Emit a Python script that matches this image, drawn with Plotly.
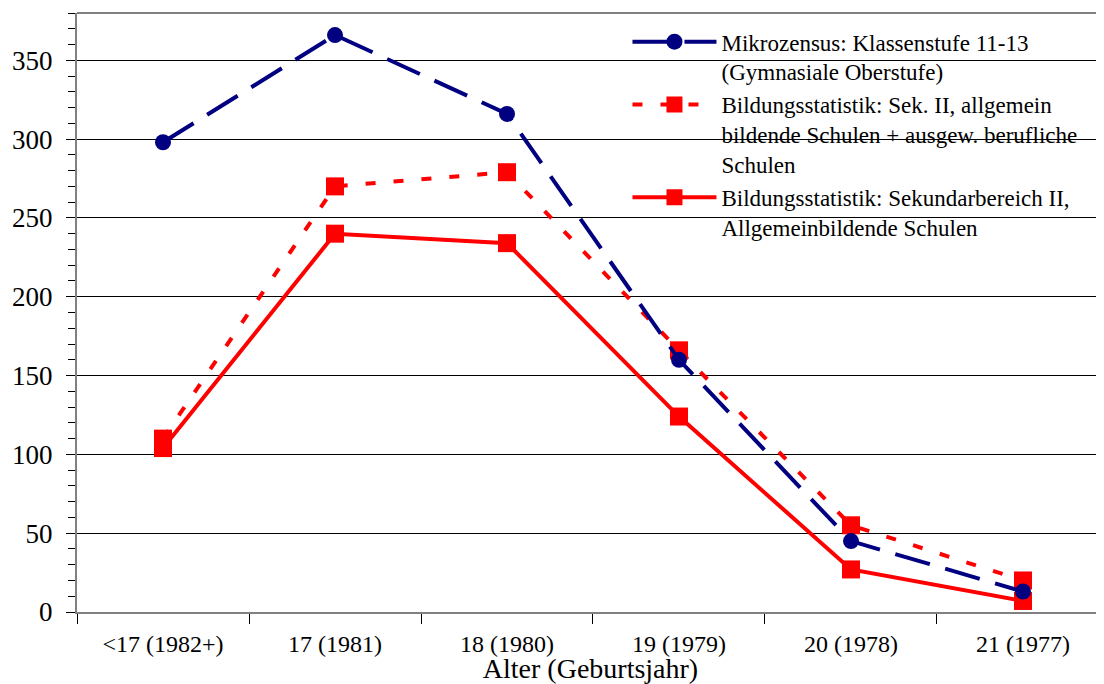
import plotly.graph_objects as go

categories = ["<17 (1982+)", "17 (1981)", "18 (1980)", "19 (1979)", "20 (1978)", "21 (1977)"]
mikrozensus = [298, 366, 316, 160, 45, 13]
bildung_berufl = [110, 270, 279, 166, 55, 20]
bildung_allg = [104, 240, 234, 124, 27, 7]

name_mz = "Mikrozensus: Klassenstufe 11-13<br>(Gymnasiale Oberstufe)"
name_bb = "Bildungsstatistik: Sek. II, allgemein<br>bildende Schulen + ausgew. berufliche<br>Schulen"
name_ba = "Bildungsstatistik: Sekundarbereich II,<br>Allgemeinbildende Schulen"

RED = "#ff0000"
NAVY = "#000080"
FONT = "Liberation Serif, Times New Roman, serif"

fig = go.Figure()
fig.add_trace(go.Scatter(
    x=categories, y=bildung_allg, name=name_ba, mode="lines+markers",
    line=dict(color=RED, width=4), marker=dict(symbol="square", size=18, color=RED),
    legendrank=3))
fig.add_trace(go.Scatter(
    x=categories, y=bildung_berufl, name=name_bb, mode="lines+markers",
    line=dict(color=RED, width=4, dash="10px,18px"), marker=dict(symbol="square", size=18, color=RED),
    legendrank=2))
fig.add_trace(go.Scatter(
    x=categories, y=mikrozensus, name=name_mz, mode="lines+markers",
    line=dict(color=NAVY, width=4, dash="36px,16px"), marker=dict(symbol="circle", size=16, color=NAVY),
    legendrank=1))

fig.update_layout(
    width=1096, height=676,
    margin=dict(l=69, r=0, t=5, b=72),
    paper_bgcolor="white", plot_bgcolor="white",
    font=dict(family=FONT, size=24, color="black"),
    showlegend=True,
    legend=dict(
        x=0.536, y=0.988, xanchor="left", yanchor="top", valign="top",
        font=dict(family=FONT, size=23, color="black"),
        bgcolor="rgba(255,255,255,0)", itemwidth=84, tracegroupgap=0,
    ),
    xaxis=dict(
        type="category", range=[-0.5, 5.471], automargin=False,
        tickson="boundaries", ticks="outside", ticklen=10, tickcolor="black",
        showline=True, linecolor="#808080", linewidth=2,
        showgrid=False, tickfont=dict(family=FONT, size=24), ticklabelstandoff=9,
        title=dict(text="Alter (Geburtsjahr)", font=dict(family=FONT, size=28), standoff=9),
    ),
    yaxis=dict(
        range=[0, 380], dtick=50, tick0=0, automargin=False,
        ticks="outside", ticklen=9, tickcolor="black",
        showline=True, linecolor="#808080", linewidth=2,
        showgrid=True, gridcolor="black", gridwidth=1,
        zeroline=False, tickfont=dict(family=FONT, size=27), ticklabelstandoff=8,
        minor=dict(dtick=10, tick0=0, ticks="outside", ticklen=7, tickcolor="black", showgrid=False),
    ),
)
fig.add_shape(type="line", xref="paper", yref="paper", x0=0, x1=1, y0=1, y1=1,
              line=dict(color="#808080", width=2))

fig.write_html("out.html")
